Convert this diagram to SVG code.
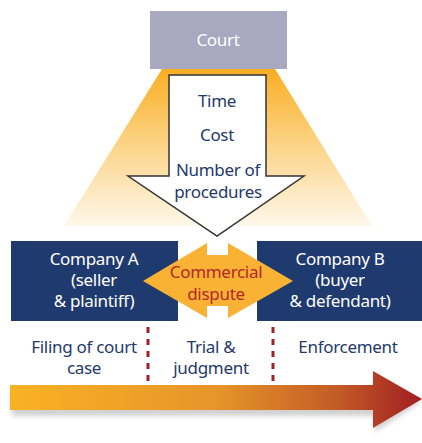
<svg xmlns="http://www.w3.org/2000/svg" width="422" height="443" viewBox="0 0 422 443">
<style>
text{font-family:"Noto Sans","Liberation Sans",sans-serif;font-size:17px;letter-spacing:-0.3px;text-anchor:middle}
.navy{fill:#24396d}
.white{fill:#ffffff}
.red{fill:#b3262c}
.dash{stroke:#a3202e;stroke-width:3;stroke-dasharray:6 6;fill:none}
</style>
<defs>
<linearGradient id="beam" x1="0" y1="0" x2="0" y2="1">
<stop offset="0" stop-color="#f9ae22"/>
<stop offset="0.5" stop-color="#fcd58a"/>
<stop offset="1" stop-color="#fef7ea"/>
</linearGradient>
<linearGradient id="time" x1="0" y1="0" x2="1" y2="0">
<stop offset="0" stop-color="#f9b224"/>
<stop offset="0.5" stop-color="#e6952a"/>
<stop offset="0.8" stop-color="#c35a26"/>
<stop offset="1" stop-color="#a01d22"/>
</linearGradient>
<filter id="sh" x="-10%" y="-30%" width="120%" height="180%">
<feGaussianBlur stdDeviation="2.5"/>
</filter>
</defs>
<polygon points="162,69 275,69 372,226 64,226" fill="url(#beam)"/>
<g id="court">
<rect x="150" y="11" width="137" height="58" fill="#a8a8c0"/>
<text x="218" y="46" class="white">Court</text>
</g>
<g id="factors">
<polygon points="169,75 266,75 266,176 304,176 217,236 128,176 169,176" fill="#ffffff" stroke="#333333" stroke-width="1.5"/>
<text x="217" y="107" class="navy">Time</text>
<text x="217" y="141" class="navy">Cost</text>
<text x="218" y="176" class="navy">Number of</text>
<text x="218" y="198" class="navy">procedures</text>
</g>
<g id="companyA">
<rect x="11" y="241" width="167" height="80" fill="#1f3a6e"/>
<text x="94" y="265" class="white">Company A</text>
<text x="94" y="286" class="white">(seller</text>
<text x="94" y="307" class="white">&amp; plaintiff)</text>
</g>
<g id="companyB">
<rect x="257" y="241" width="165" height="80" fill="#1f3a6e"/>
<text x="340" y="265" class="white">Company B</text>
<text x="340" y="286" class="white">(buyer</text>
<text x="340" y="307" class="white">&amp; defendant)</text>
</g>
<g id="dispute">
<polygon points="143,281 207,243 207,255 228,255 228,243 293,281 228,318 228,306 207,306 207,318" fill="#f9b233"/>
<text x="216" y="278" class="red">Commercial</text>
<text x="216" y="300" class="red">dispute</text>
</g>
<g id="connectors">
<line x1="148" y1="327" x2="148" y2="382" class="dash"/>
<line x1="273" y1="327" x2="273" y2="382" class="dash"/>
</g>
<g id="stages">
<text x="84" y="353" class="navy">Filing of court</text>
<text x="84" y="374" class="navy">case</text>
<text x="211" y="353" class="navy">Trial &amp;</text>
<text x="211" y="374" class="navy">judgment</text>
<text x="348" y="353" class="navy">Enforcement</text>
</g>
<g id="timeline">
<polygon points="12,392 375,392 375,377 421,402 375,432 375,416 12,416" fill="#000000" opacity="0.18" filter="url(#sh)"/>
<polygon points="10,385 373,385 373,371 422,399 373,428 373,410 10,410" fill="url(#time)"/>
</g>
</svg>
